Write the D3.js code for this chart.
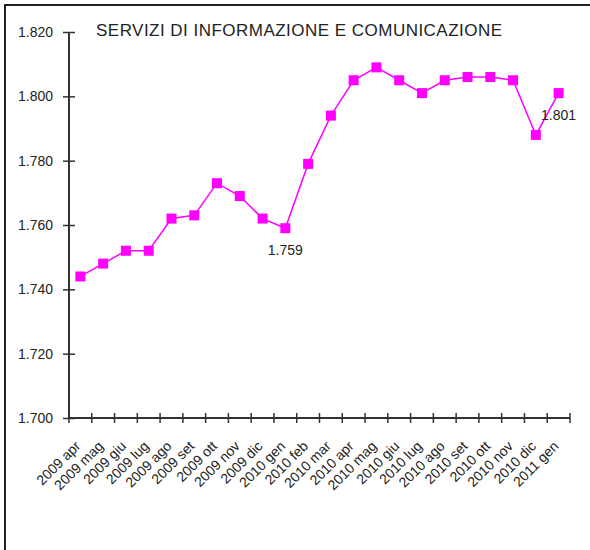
<!DOCTYPE html>
<html>
<head>
<meta charset="utf-8">
<script src="https://cdn.jsdelivr.net/npm/d3@7"></script>
<style>
  html, body { margin: 0; padding: 0; background: #fff; }
  svg { display: block; }
  text { font-family: "Liberation Sans", Arial, sans-serif; fill: #222; }
</style>
</head>
<body>
<svg id="chart" width="590" height="550"></svg>
<script>
const title = "SERVIZI DI INFORMAZIONE E COMUNICAZIONE";
const categories = ["2009 apr","2009 mag","2009 giu","2009 lug","2009 ago","2009 set","2009 ott","2009 nov","2009 dic",
  "2010 gen","2010 feb","2010 mar","2010 apr","2010 mag","2010 giu","2010 lug","2010 ago","2010 set","2010 ott","2010 nov","2010 dic",
  "2011 gen"];
const values = [1.744,1.748,1.752,1.752,1.762,1.763,1.773,1.769,1.762,1.759,1.779,1.794,1.805,1.809,1.805,1.801,1.805,1.806,1.806,1.805,1.788,1.801];
const yTicks = [1.700,1.720,1.740,1.760,1.780,1.800,1.820];
const labelled = ["2010 gen","2011 gen"];

const svg = d3.select("#chart");
const fmt = v => d3.format(".3f")(v);

// frame
svg.append("line").attr("x1",5).attr("x2",5).attr("y1",5).attr("y2",550).attr("stroke","#222").attr("stroke-width",2);
svg.append("line").attr("x1",4).attr("x2",590).attr("y1",5).attr("y2",5).attr("stroke","#222").attr("stroke-width",2);

const x = d3.scaleBand().domain(categories).range([69, 570]);
const y = d3.scaleLinear().domain([1.7, 1.82]).range([418, 32]);

// title
svg.append("text").attr("x", 96).attr("y", 36).attr("font-size", 17)
  .attr("textLength", 406).attr("lengthAdjust","spacing").text(title);

// y axis
const yAxis = svg.append("g").attr("transform","translate(69,0)")
  .call(d3.axisLeft(y).tickValues(yTicks).tickSize(6).tickPadding(10).tickFormat(fmt));
yAxis.select(".domain").remove();
yAxis.selectAll(".tick line").attr("x2", 6).attr("x1",-6).attr("stroke","#333").attr("stroke-width",1.5);
yAxis.append("line").attr("x1",0).attr("x2",0).attr("y1",y(1.82)).attr("y2",y(1.7)).attr("stroke","#333").attr("stroke-width",2);
yAxis.selectAll(".tick text").attr("font-size", 14).attr("fill","#222").attr("x",-16)
  .attr("font-family",'"Liberation Sans", Arial, sans-serif');

// x axis
const xAxis = svg.append("g").attr("transform","translate(0,418)");
xAxis.append("line").attr("x1",69).attr("x2",570).attr("y1",0).attr("y2",0).attr("stroke","#333").attr("stroke-width",2);
const bounds = categories.map(c => x(c)).concat([x(categories[categories.length-1]) + x.bandwidth()]);
xAxis.selectAll("line.tk").data(bounds).join("line").attr("class","tk")
  .attr("x1",d=>d).attr("x2",d=>d).attr("y1",-5).attr("y2",5).attr("stroke","#333").attr("stroke-width",1.5);
xAxis.selectAll("text.xl").data(categories).join("text").attr("class","xl")
  .attr("font-size", 14)
  .attr("text-anchor","end")
  .attr("transform", d => `translate(${x(d) + x.bandwidth()/2 + 1},${29}) rotate(-45)`)
  .text(d => d);

// line
const cx = d => x(d) + x.bandwidth()/2;
const line = d3.line().x((d,i)=>cx(categories[i])).y(d=>y(d));
svg.append("path").datum(values).attr("d", line).attr("fill","none").attr("stroke","#ff00ff").attr("stroke-width",1.5);

svg.selectAll("rect.mk").data(values).join("rect").attr("class","mk")
  .attr("x",(d,i)=>cx(categories[i]) - 5).attr("y", d => y(d) - 5)
  .attr("width",10).attr("height",10).attr("fill","#ff00ff");

// data labels
svg.selectAll("text.dl").data(categories.map((c,i)=>({c, v: values[i]})).filter(d => labelled.includes(d.c)))
  .join("text").attr("class","dl")
  .attr("x", d => cx(d.c)).attr("y", d => y(d.v) + 27)
  .attr("text-anchor","middle").attr("font-size",14)
  .text(d => fmt(d.v));
</script>
</body>
</html>
